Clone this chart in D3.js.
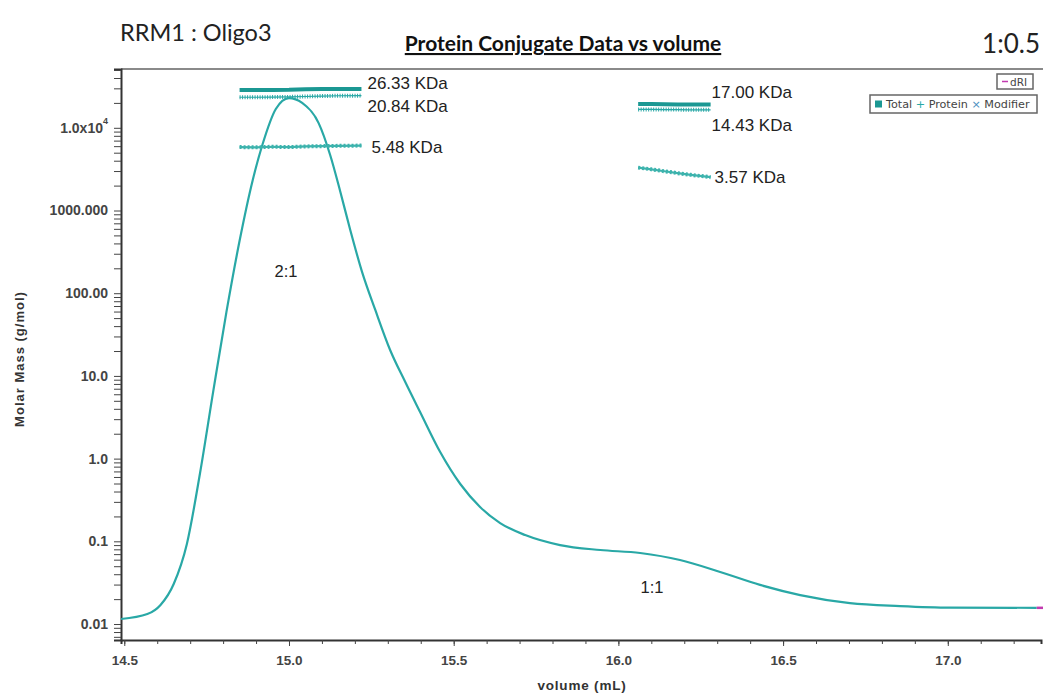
<!DOCTYPE html>
<html>
<head>
<meta charset="utf-8">
<script src="https://cdn.jsdelivr.net/npm/d3@7"></script>
<style>
  body { margin: 0; background: #fff; }
  text { font-family: Arial, "Liberation Sans", sans-serif; }
</style>
</head>
<body>
<div id="chart"></div>
<script>
// elution volume (mL) and the refractive index trace
const volume = [14.49, 14.57, 14.61, 14.65, 14.69, 14.73, 14.77, 14.81, 14.85, 14.89, 14.92, 14.96,
  15.00, 15.04, 15.09, 15.125, 15.156, 15.186, 15.222, 15.262, 15.307, 15.353, 15.398, 15.459,
  15.52, 15.58, 15.641, 15.717, 15.823, 15.945, 16.066, 16.187, 16.309, 16.43, 16.552, 16.703,
  16.855, 17.007, 17.27];
const trace = [0.0115, 0.0132, 0.017, 0.0305, 0.093, 0.67, 6.5, 59, 430, 2340, 6370, 16900,
  22900, 20000, 11400, 4690, 1675, 581, 180, 62.7, 20.6, 8.43, 3.66, 1.2,
  0.493, 0.26, 0.166, 0.119, 0.09, 0.0785, 0.0722, 0.0594, 0.0426, 0.0297, 0.0224, 0.0179,
  0.0165, 0.0158, 0.0157];
const driTailVol = [17.27, 17.29];
const driTail = [0.0157, 0.0157];

// molar mass results, peak 1 (2:1) and peak 2 (1:1)
const peak1Vol = [14.85, 14.90, 14.95, 15.00, 15.05, 15.10, 15.15, 15.22];
const peak1Total = [28600, 28600, 28700, 28800, 29300, 29400, 29400, 29500];
const peak1Protein = [23400, 23400, 23500, 23600, 23900, 24200, 24400, 24500];
const peak1Modifier = [5850, 5800, 5900, 5850, 5950, 6000, 6050, 6100];
const peak2Vol = [16.06, 16.10, 16.14, 16.18, 16.22, 16.28];
const peak2Total = [19400, 19400, 19300, 19100, 19100, 19100];
const peak2Protein = [16700, 16700, 16600, 16600, 16500, 16500];
const peak2Modifier = [3300, 3150, 2980, 2830, 2700, 2530];

const peak1Labels = ["26.33 KDa", "20.84 KDa", "5.48 KDa"];
const peak2Labels = ["17.00 KDa", "14.43 KDa", "3.57 KDa"];

const xTicks = [14.5, 15.0, 15.5, 16.0, 16.5, 17.0];
const xTickLabels = ["14.5", "15.0", "15.5", "16.0", "16.5", "17.0"];
const yDecades = [0.01, 0.1, 1, 10, 100, 1000, 10000];
const yTickLabels = ["0.01", "0.1", "1.0", "10.0", "100.00", "1000.000", "1.0x10"];

const W = 1043, H = 693;
const mLeft = 121, mRight = 1041, mTop = 69, mBottom = 640;
const teal = "#29a8a6", tealDark = "#1b9893";

const svg = d3.select("#chart").append("svg")
  .attr("width", W).attr("height", H);

const x = d3.scaleLinear().domain([14.49, 17.283]).range([mLeft, mRight]);
const y = d3.scaleLog().domain([0.00641, 51400]).range([mBottom, mTop]);

// titles
svg.append("text").attr("x", 120).attr("y", 41)
  .style("font-family", "Lato, sans-serif").attr("font-size", 23.5).attr("fill", "#222")
  .text("RRM1 : Oligo3");
svg.append("text").attr("x", 563).attr("y", 51).attr("text-anchor", "middle")
  .style("font-family", "Lato, sans-serif").attr("font-size", 21).attr("font-weight", "bold")
  .attr("text-decoration", "underline").attr("fill", "#111")
  .text("Protein Conjugate Data vs volume");
svg.append("text").attr("x", 1040).attr("y", 53).attr("text-anchor", "end")
  .style("font-family", "Lato, sans-serif").attr("font-size", 26).attr("fill", "#222")
  .text("1:0.5");

// frame top
svg.append("line").attr("x1", mLeft).attr("x2", W).attr("y1", mTop).attr("y2", mTop)
  .attr("stroke", "#8a8a8a").attr("stroke-width", 2);

// y axis with log minor ticks
const yAll = [];
yDecades.concat([100000]).forEach(d => {
  for (let k = 1; k <= 9; k++) {
    const v = d / 10 * k;
    if (v >= y.domain()[0] && v <= y.domain()[1]) yAll.push(v);
  }
});
const yAxis = d3.axisLeft(y).tickValues(yAll).tickSize(7).tickPadding(6)
  .tickFormat(d => {
    const i = yDecades.findIndex(v => Math.abs(v - d) / v < 1e-6);
    return i >= 0 ? yTickLabels[i] : "";
  });
const gy = svg.append("g").attr("transform", `translate(${mLeft},0)`).call(yAxis);
gy.select(".domain").attr("stroke", "#333").attr("stroke-width", 2);
gy.selectAll(".tick line").attr("stroke", "#444");
gy.selectAll(".tick text").attr("font-size", 14).attr("font-weight", "bold").attr("fill", "#444");
gy.selectAll(".tick text").filter(d => Math.abs(d - 10000) < 1)
  .append("tspan").attr("dy", -9).attr("font-size", 9).text("4");

// x axis
const xMinor = d3.range(14.5, 17.29, 0.1);
const gxm = svg.append("g").attr("transform", `translate(0,${mBottom})`)
  .call(d3.axisBottom(x).tickValues(xMinor).tickSize(4).tickFormat(""));
gxm.select(".domain").attr("stroke", "#333").attr("stroke-width", 2);
gxm.selectAll(".tick line").attr("stroke", "#444");
const gx = svg.append("g").attr("transform", `translate(0,${mBottom})`)
  .call(d3.axisBottom(x).tickValues(xTicks).tickSize(6).tickPadding(9)
    .tickFormat((d, i) => xTickLabels[i]));
gx.select(".domain").remove();
gx.selectAll(".tick line").attr("stroke", "#444");
gx.selectAll(".tick text").attr("font-size", 13.5).attr("font-weight", "bold").attr("fill", "#444");

// axis titles
svg.append("text").attr("x", 582).attr("y", 690).attr("text-anchor", "middle")
  .attr("font-size", 13.5).attr("font-weight", "bold").attr("fill", "#333").attr("letter-spacing", 0.8)
  .text("volume (mL)");
svg.append("text").attr("transform", "translate(24,359) rotate(-90)").attr("text-anchor", "middle")
  .attr("font-size", 13).attr("font-weight", "bold").attr("fill", "#333").attr("letter-spacing", 1)
  .text("Molar Mass (g/mol)");

// trace
const line = d3.line().x(d => x(d[0])).y(d => y(d[1])).curve(d3.curveMonotoneX);
svg.append("path").datum(d3.zip(volume, trace)).attr("d", line)
  .attr("fill", "none").attr("stroke", teal).attr("stroke-width", 2.2);
svg.append("path").datum(d3.zip(driTailVol, driTail)).attr("d", line)
  .attr("fill", "none").attr("stroke", "#c23bb0").attr("stroke-width", 2.5);

// molar mass series
const flat = d3.line().x(d => x(d[0])).y(d => y(d[1]));
function drawSeries(vol, vals, kind) {
  const g = svg.append("g");
  const data = d3.zip(vol, vals);
  if (kind === "total") {
    g.append("path").datum(data).attr("d", flat).attr("fill", "none")
      .attr("stroke", tealDark).attr("stroke-width", 4);
  } else if (kind === "protein") {
    g.append("path").datum(data).attr("d", flat).attr("fill", "none")
      .attr("stroke", teal).attr("stroke-width", 1.2);
    g.append("path").datum(data).attr("d", flat).attr("fill", "none")
      .attr("stroke", teal).attr("stroke-width", 4).attr("stroke-dasharray", "1,1.5");
  } else {
    g.append("path").datum(data).attr("d", flat).attr("fill", "none")
      .attr("stroke", "#3db3ad").attr("stroke-width", 2.2);
    g.append("path").datum(data).attr("d", flat).attr("fill", "none")
      .attr("stroke", "#3db3ad").attr("stroke-width", 4).attr("stroke-dasharray", "2,2");
  }
}
drawSeries(peak1Vol, peak1Total, "total");
drawSeries(peak1Vol, peak1Protein, "protein");
drawSeries(peak1Vol, peak1Modifier, "modifier");
drawSeries(peak2Vol, peak2Total, "total");
drawSeries(peak2Vol, peak2Protein, "protein");
drawSeries(peak2Vol, peak2Modifier, "modifier");

// result labels
const lab1 = [[6, 89], [6, 112], [10, 153]];
peak1Labels.forEach((t, i) => {
  svg.append("text").attr("x", x(peak1Vol[peak1Vol.length - 1]) + lab1[i][0]).attr("y", lab1[i][1])
    .attr("font-size", 17).attr("fill", "#222").text(t);
});
const lab2 = [[1, 98], [1, 131], [4, 183]];
peak2Labels.forEach((t, i) => {
  svg.append("text").attr("x", x(peak2Vol[peak2Vol.length - 1]) + lab2[i][0]).attr("y", lab2[i][1])
    .attr("font-size", 17).attr("fill", "#222").text(t);
});

// ratio labels
svg.append("text").attr("x", 286).attr("y", 277).attr("text-anchor", "middle")
  .attr("font-size", 16.5).attr("fill", "#222").text("2:1");
svg.append("text").attr("x", 652).attr("y", 593).attr("text-anchor", "middle")
  .attr("font-size", 16.5).attr("fill", "#222").text("1:1");

// legend boxes
const legFont = "'DejaVu Sans', sans-serif";
const leg1 = svg.append("g").attr("transform", "translate(997,74)");
leg1.append("rect").attr("width", 36).attr("height", 15).attr("fill", "#fff")
  .attr("stroke", "#666").attr("stroke-width", 1.5);
leg1.append("line").attr("x1", 5).attr("x2", 11).attr("y1", 7.5).attr("y2", 7.5)
  .attr("stroke", "#c23bb0").attr("stroke-width", 1.5);
leg1.append("text").attr("x", 13).attr("y", 11.5).style("font-family", legFont)
  .attr("font-size", 10.5).attr("fill", "#444").text("dRI");

const leg2 = svg.append("g").attr("transform", "translate(870,95)");
leg2.append("rect").attr("width", 167).attr("height", 18).attr("fill", "#fff")
  .attr("stroke", "#666").attr("stroke-width", 1.5);
leg2.append("rect").attr("x", 5).attr("y", 5.5).attr("width", 7).attr("height", 7).attr("fill", tealDark);
const lt = leg2.append("text").attr("x", 16).attr("y", 13).style("font-family", legFont)
  .attr("font-size", 11.2).attr("fill", "#444");
lt.append("tspan").text("Total ");
lt.append("tspan").attr("fill", teal).text("+ ");
lt.append("tspan").text("Protein ");
lt.append("tspan").attr("fill", "#4b8fc0").text("× ");
lt.append("tspan").text("Modifier");
</script>
</body>
</html>
